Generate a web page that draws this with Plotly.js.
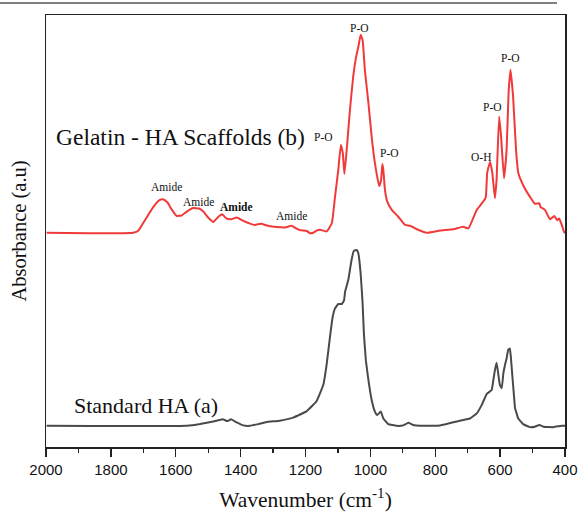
<!DOCTYPE html>
<html>
<head>
<meta charset="utf-8">
<script src="https://cdn.plot.ly/plotly-3.0.1.min.js"></script>
<style>html,body{margin:0;padding:0;background:#fff}#chart{width:579px;height:515px}</style>
</head>
<body>
<div id="chart"></div>
<script>
// Standard HA (a)
const haWavenumber = [1998,1566,1525,1484,1455,1441,1430,1412,1392,1371,1346,1320,1279,1238,1196,1166,1145,1135,1125,1116,1109,1099,1088,1081,1078,1068,1063,1058,1051,1042,1037,1030,1024,1020,1014,1006,996,986,979,968,960,945,919,899,883,868,847,785,724,693,672,657,641,626,621,616,611,606,601,595,590,585,580,575,570,567,563,557,554,544,529,508,493,479,467,436,410,400];
const haAbsorbance = [0.049,0.049,0.053,0.059,0.064,0.060,0.064,0.057,0.050,0.049,0.053,0.058,0.061,0.068,0.083,0.106,0.144,0.190,0.252,0.302,0.321,0.331,0.331,0.340,0.359,0.387,0.410,0.433,0.454,0.456,0.448,0.402,0.333,0.263,0.201,0.155,0.109,0.082,0.074,0.082,0.066,0.053,0.049,0.050,0.056,0.051,0.049,0.050,0.061,0.066,0.078,0.097,0.123,0.132,0.155,0.178,0.195,0.171,0.144,0.136,0.171,0.190,0.205,0.225,0.228,0.209,0.171,0.116,0.090,0.066,0.053,0.046,0.047,0.051,0.047,0.046,0.049,0.049];

// Gelatin - HA Scaffolds (b)
const gelWavenumber = [1998,1731,1715,1695,1669,1649,1638,1633,1623,1618,1597,1582,1566,1546,1528,1515,1501,1484,1470,1457,1444,1430,1412,1393,1371,1356,1337,1316,1289,1263,1243,1229,1217,1196,1186,1176,1166,1155,1135,1119,1109,1099,1091,1085,1080,1073,1063,1053,1044,1037,1030,1024,1017,1006,996,986,973,967,963,960,955,948,934,914,893,878,853,826,785,744,714,698,672,645,640,631,624,616,611,603,597,588,580,574,568,560,551,544,529,508,493,479,475,462,446,433,424,418,410,403,400];
const gelAbsorbance = [0.496,0.496,0.501,0.525,0.556,0.572,0.573,0.571,0.564,0.556,0.535,0.536,0.545,0.553,0.552,0.545,0.532,0.521,0.532,0.539,0.529,0.527,0.531,0.524,0.517,0.514,0.517,0.512,0.509,0.508,0.512,0.506,0.502,0.500,0.495,0.496,0.501,0.503,0.499,0.518,0.579,0.641,0.699,0.680,0.632,0.688,0.780,0.857,0.903,0.927,0.954,0.942,0.873,0.796,0.718,0.657,0.604,0.618,0.655,0.641,0.595,0.568,0.549,0.533,0.514,0.512,0.503,0.496,0.501,0.504,0.510,0.506,0.549,0.576,0.634,0.660,0.634,0.576,0.618,0.765,0.718,0.622,0.688,0.819,0.873,0.811,0.688,0.634,0.606,0.579,0.563,0.564,0.555,0.549,0.527,0.535,0.525,0.529,0.514,0.498,0.495];

const xTickVals = [2000,1800,1600,1400,1200,1000,800,600,400];
const xTickText = ['2000','1800','1600','1400','1200','1000','800','600','400'];

// band labels
const labelText = ['P-O','P-O','P-O','O-H','P-O','P-O','Amide','Amide','<b>Amide</b>','Amide'];
const labelX = [1032,1145,942,659,624,568,1628,1531,1412,1243];
const labelY = [0.969,0.718,0.681,0.672,0.788,0.900,0.603,0.568,0.555,0.535];

const serif = 'Liberation Serif, Times New Roman, serif';

const traces = [
  {x: haWavenumber, y: haAbsorbance, type:'scatter', mode:'lines', line:{color:'#4a4a4a', width:2, shape:'spline', smoothing:0.3}, hoverinfo:'skip'},
  {x: gelWavenumber, y: gelAbsorbance, type:'scatter', mode:'lines', line:{color:'#f03a3a', width:2, shape:'spline', smoothing:0.4}, hoverinfo:'skip'}
];

const annotations = labelText.map((t,i)=>({
  x: labelX[i], y: labelY[i], xref:'x', yref:'y', text:t, showarrow:false,
  font:{family:serif, size:11.5, color:'#111'}
}));
annotations.push({x:1975, y:0.718, xref:'x', yref:'y', xanchor:'left', text:'Gelatin - HA Scaffolds (b)', showarrow:false, font:{family:serif, size:23.5, color:'#111'}});
annotations.push({x:1919, y:0.097, xref:'x', yref:'y', xanchor:'left', text:'Standard HA (a)', showarrow:false, font:{family:serif, size:22, color:'#111'}});

const layout = {
  width:579, height:515,
  margin:{l:46, r:14, t:15, b:68},
  paper_bgcolor:'#fff', plot_bgcolor:'#fff',
  showlegend:false,
  xaxis:{
    range:[2000,400], autorange:false,
    tickvals:xTickVals, ticktext:xTickText,
    ticks:'outside', ticklen:8, tickwidth:1.3, tickcolor:'#222',
    minor:{dtick:100, ticks:'outside', ticklen:4, tickwidth:1.3, tickcolor:'#222'},
    showline:true, mirror:true, linecolor:'#222', linewidth:1.5,
    showgrid:false, zeroline:false,
    tickfont:{family:'Liberation Sans, Arial, sans-serif', size:15, color:'#111'},
    title:{text:'Wavenumber (cm<sup>-1</sup>)', font:{family:serif, size:21.5, color:'#111'}, standoff:15}
  },
  yaxis:{
    range:[0,1], autorange:false,
    showticklabels:false, ticks:'',
    showline:true, mirror:true, linecolor:'#222', linewidth:1.5,
    showgrid:false, zeroline:false,
    title:{text:'Absorbance (a.u)', font:{family:serif, size:20.5, color:'#111'}, standoff:12}
  },
  annotations:annotations,
  shapes:[{type:'line', xref:'paper', yref:'paper', x0:-0.0886, x1:0.9846, y0:1.0278, y1:1.0278, line:{color:'#555', width:1.5}}]
};

Plotly.newPlot('chart', traces, layout, {staticPlot:true, displayModeBar:false});
</script>
</body>
</html>
